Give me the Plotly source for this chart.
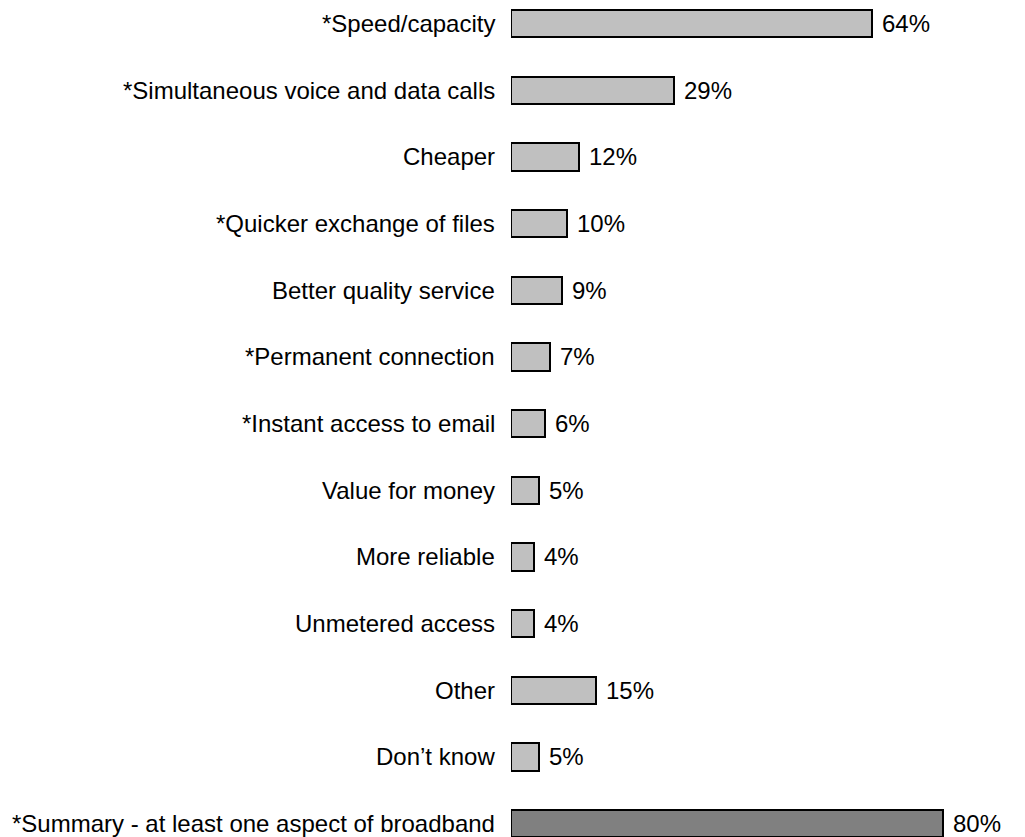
import plotly.graph_objects as go

# Survey responses: perceived benefits of broadband
categories = [
    "*Speed/capacity",
    "*Simultaneous voice and data calls",
    "Cheaper",
    "*Quicker exchange of files",
    "Better quality service",
    "*Permanent connection",
    "*Instant access to email",
    "Value for money",
    "More reliable",
    "Unmetered access",
    "Other",
    "Don\u2019t know",
]
values = [64, 29, 12, 10, 9, 7, 6, 5, 4, 4, 15, 5]

summary_label = "*Summary - at least one aspect of broadband"
summary_value = 80

FONT = "Liberation Sans, Arial, sans-serif"
FS = 24

W, H = 1025, 837
left = 511
plot_w = W - left

rows = list(range(len(categories)))
summary_row = len(categories)

fig = go.Figure()

fig.add_trace(go.Bar(
    y=rows, x=values, orientation="h",
    width=0.41,
    marker=dict(color="#c0c0c0", line=dict(color="#000000", width=2)),
    xaxis="x", yaxis="y", showlegend=False, hoverinfo="skip",
))

fig.add_trace(go.Bar(
    y=[summary_row], x=[summary_value], orientation="h",
    width=0.41,
    marker=dict(color="#808080", line=dict(color="#000000", width=2)),
    xaxis="x2", yaxis="y", showlegend=False, hoverinfo="skip",
))

annotations = []
for i, (lab, v) in enumerate(zip(categories, values)):
    annotations.append(dict(
        x=0, xref="paper", y=i, yref="y", text=lab, showarrow=False,
        xanchor="right", yanchor="middle", xshift=-14,
        font=dict(family=FONT, size=FS, color="#000"),
    ))
    annotations.append(dict(
        x=v, xref="x", y=i, yref="y", text=f"{v}%", showarrow=False,
        xanchor="left", yanchor="middle", xshift=8,
        font=dict(family=FONT, size=FS, color="#000"),
    ))

annotations.append(dict(
    x=0, xref="paper", y=summary_row, yref="y", text=summary_label,
    showarrow=False, xanchor="right", yanchor="middle", xshift=-14,
    font=dict(family=FONT, size=FS, color="#000"),
))
annotations.append(dict(
    x=summary_value, xref="x2", y=summary_row, yref="y",
    text=f"{summary_value}%", showarrow=False,
    xanchor="left", yanchor="middle", xshift=8,
    font=dict(family=FONT, size=FS, color="#000"),
))

row_px = 66.67
top_off = 23.5 / row_px
y_top = -top_off
y_bottom = y_top + H / row_px

fig.update_layout(
    width=W, height=H,
    margin=dict(l=left, r=0, t=0, b=0),
    paper_bgcolor="white", plot_bgcolor="white",
    xaxis=dict(range=[0, plot_w / 5.633], visible=False, fixedrange=True),
    xaxis2=dict(range=[0, plot_w / 5.4], overlaying="x", visible=False,
                fixedrange=True),
    yaxis=dict(range=[y_bottom, y_top], visible=False, fixedrange=True),
    annotations=annotations,
    bargap=0,
)

fig.write_html("out.html")
